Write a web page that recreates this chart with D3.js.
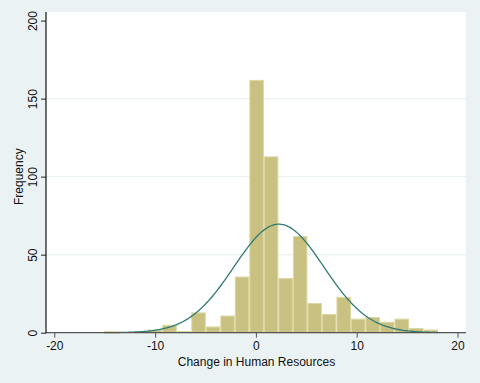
<!DOCTYPE html>
<html>
<head>
<meta charset="utf-8">
<script src="https://cdn.jsdelivr.net/npm/d3@7"></script>
<style>
  html, body { margin: 0; padding: 0; background: #eaf2f3; }
  svg { display: block; }
  text { font-family: "Liberation Sans", Arial, sans-serif; fill: #111; }
</style>
</head>
<body>
<svg id="chart" width="480" height="383"></svg>
<script>
// Histogram bins: left edge of the first bin, common bin width, and counts
const binStart = -15.05;
const binWidth = 1.44;
const counts = [1, 0, 1, 2, 5, 1, 13, 4, 11, 36, 162, 113, 35, 62, 19, 12, 23, 9, 10, 7, 9, 3, 2];

// Fitted normal overlay parameters
const normalMean = 2.28;
const normalSd = 4.46;

// Axis ticks and labels
const xTicks = [-20, -10, 0, 10, 20];
const yTicks = [0, 50, 100, 150, 200];
const gridValues = [50, 100, 150];
const xTitle = "Change in Human Resources";
const yTitle = "Frequency";

const svg = d3.select("#chart");
const W = 480, H = 383;

// plot region
const plot = { left: 46, right: 466, top: 12, bottom: 332.7 };

const x = d3.scaleLinear().domain([-20, 20]).range([54.3, 457.5]);
const y = d3.scaleLinear().domain([0, 200]).range([332.7, 20.6]);

svg.append("rect").attr("width", W).attr("height", H).attr("fill", "#eaf2f3");
svg.append("rect")
  .attr("x", plot.left).attr("y", plot.top)
  .attr("width", plot.right - plot.left).attr("height", plot.bottom - plot.top)
  .attr("fill", "#ffffff");

// horizontal grid
svg.append("g").selectAll("line").data(gridValues).join("line")
  .attr("x1", plot.left).attr("x2", plot.right)
  .attr("y1", d => y(d)).attr("y2", d => y(d))
  .attr("stroke", "#eaf1f2").attr("stroke-width", 1.2);

// bars
const bins = counts.map((c, i) => ({ x0: binStart + i * binWidth, x1: binStart + (i + 1) * binWidth, n: c }));
svg.append("g").selectAll("rect").data(bins.filter(b => b.n > 0)).join("rect")
  .attr("x", d => x(d.x0) + 0.5)
  .attr("width", d => x(d.x1) - x(d.x0) - 1)
  .attr("y", d => y(d.n) + 0.5)
  .attr("height", d => Math.max(0, y(0) - y(d.n) - 0.5))
  .attr("fill", "#c9c182")
  .attr("stroke", "#ddd7a0")
  .attr("stroke-width", 1);

// normal density scaled to frequency over the range of the data
const xMin = binStart, xMax = binStart + counts.length * binWidth;
const total = d3.sum(counts);
const dens = v => total * binWidth * Math.exp(-0.5 * ((v - normalMean) / normalSd) ** 2) / (normalSd * Math.sqrt(2 * Math.PI));
const curvePts = d3.range(0, 201).map(i => xMin + (xMax - xMin) * i / 200);
svg.append("path")
  .datum(curvePts)
  .attr("fill", "none")
  .attr("stroke", "#2f7b73")
  .attr("stroke-width", 1.3)
  .attr("d", d3.line().x(d => x(d)).y(d => y(dens(d))));

// x axis
const xAxis = svg.append("g")
  .attr("transform", `translate(0,${plot.bottom})`)
  .call(d3.axisBottom(x).tickValues(xTicks).tickSize(5).tickSizeOuter(0).tickPadding(4).tickFormat(d3.format("d")));
xAxis.select(".domain").remove();
xAxis.selectAll(".tick line").attr("stroke", "#555");
xAxis.selectAll(".tick text")
  .text(d => d < 0 ? "-" + Math.abs(d) : d)
  .attr("font-size", 12).attr("font-family", "Liberation Sans, Arial, sans-serif").attr("fill", "#111");
svg.append("line")
  .attr("x1", plot.left).attr("x2", plot.right)
  .attr("y1", plot.bottom).attr("y2", plot.bottom)
  .attr("stroke", "#555").attr("stroke-width", 1.2);

// y axis
const yAxis = svg.append("g")
  .attr("transform", `translate(${plot.left},0)`)
  .call(d3.axisLeft(y).tickValues(yTicks).tickSize(5).tickSizeOuter(0).tickFormat(d3.format("d")));
yAxis.select(".domain").remove();
yAxis.selectAll(".tick line").attr("stroke", "#222");
yAxis.selectAll(".tick text")
  .attr("font-size", 12).attr("font-family", "Liberation Sans, Arial, sans-serif").attr("fill", "#111")
  .attr("x", null).attr("dy", null)
  .attr("text-anchor", "middle")
  .attr("transform", "translate(-9.5,0) rotate(-90)");
svg.append("line")
  .attr("x1", plot.left).attr("x2", plot.left)
  .attr("y1", plot.top).attr("y2", plot.bottom + 0.6)
  .attr("stroke", "#111").attr("stroke-width", 1.2);

// axis titles
svg.append("text")
  .attr("x", (plot.left + plot.right) / 2 + 0.5).attr("y", 366)
  .attr("text-anchor", "middle").attr("font-size", 12)
  .text(xTitle);
svg.append("text")
  .attr("transform", `translate(23,${(y(0) + y(200)) / 2}) rotate(-90)`)
  .attr("text-anchor", "middle").attr("font-size", 12)
  .text(yTitle);
</script>
</body>
</html>
